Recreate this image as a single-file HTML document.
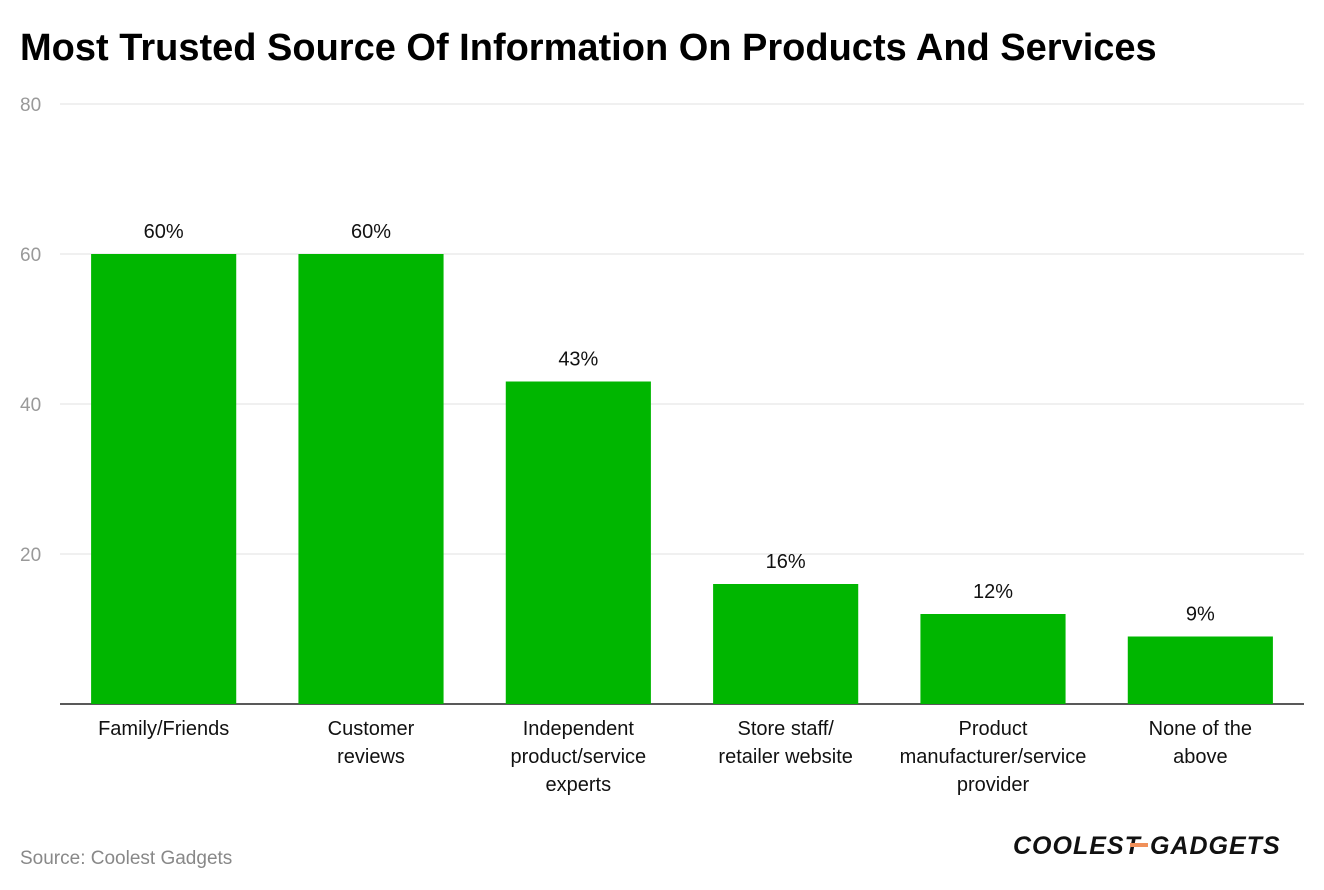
<!DOCTYPE html>
<html><head><meta charset="utf-8"><style>
body{margin:0;background:#fff;font-family:"Liberation Sans",sans-serif;}
svg{display:block}
</style></head><body>
<svg width="1324" height="890">
<text x="20" y="60" font-size="38" font-weight="bold" fill="#000">Most Trusted Source Of Information On Products And Services</text>
<g id="grid"></g><g id="bars"></g><g id="labels"></g>
<text x="20" y="864" font-size="19" fill="#888">Source: Coolest Gadgets</text>
<g>
<text x="1013" y="854" font-size="25" font-weight="bold" font-style="italic" fill="#111" letter-spacing="1">COOLEST</text>
<rect x="1130" y="843" width="18" height="4" fill="#f0905a"></rect>
<text x="1150" y="854" font-size="25" font-weight="bold" font-style="italic" fill="#111" letter-spacing="1">GADGETS</text>
</g>
</svg>
<script>
const categories=[["Family/Friends"],["Customer","reviews"],["Independent","product/service","experts"],["Store staff/","retailer website"],["Product","manufacturer/service","provider"],["None of the","above"]];
const values=[60,60,43,16,12,9];
const ticks=[20,40,60,80];
const NS="http://www.w3.org/2000/svg";
const x0=60,x1=1304,yBase=704,yTop=104,maxV=80;
const y=v=>yBase-(v/maxV)*(yBase-yTop);
const band=(x1-x0)/categories.length;
function mk(t,a,p,txt){const e=document.createElementNS(NS,t);for(const k in a)e.setAttribute(k,a[k]);if(txt!=null)e.textContent=txt;p.appendChild(e);return e;}
const g=document.getElementById('grid'),b=document.getElementById('bars'),l=document.getElementById('labels');
ticks.forEach(t=>{
 const ln=mk('line',{x1:x0,x2:x1,y1:y(t),y2:y(t),stroke:'#e0e0e0','stroke-width':1},g);
 
 
 const tx=mk('text',{x:20,y:y(t)+7,'font-size':19,fill:'#999'},g,t);
 
 
});
values.forEach((v,i)=>{
 const cx=x0+band*(i+0.5),w=band*0.7;
 const r=mk('rect',{x:cx-w/2,y:y(v),width:w,height:yBase-y(v),fill:'#00b600'},b);
 
 
 const vt=mk('text',{x:cx,y:y(v)-16,'font-size':20,'text-anchor':'middle',fill:'#111'},l,v+'%');
 
 
 categories[i].forEach((s,j)=>{
  const ct=mk('text',{x:cx,y:735+j*28,'font-size':20,'text-anchor':'middle',fill:'#111'},l,s);
  
  
 });
});
const ax=mk('line',{x1:x0,x2:x1,y1:yBase,y2:yBase,stroke:'#222','stroke-width':1.5},g);


</script>
</body></html>
